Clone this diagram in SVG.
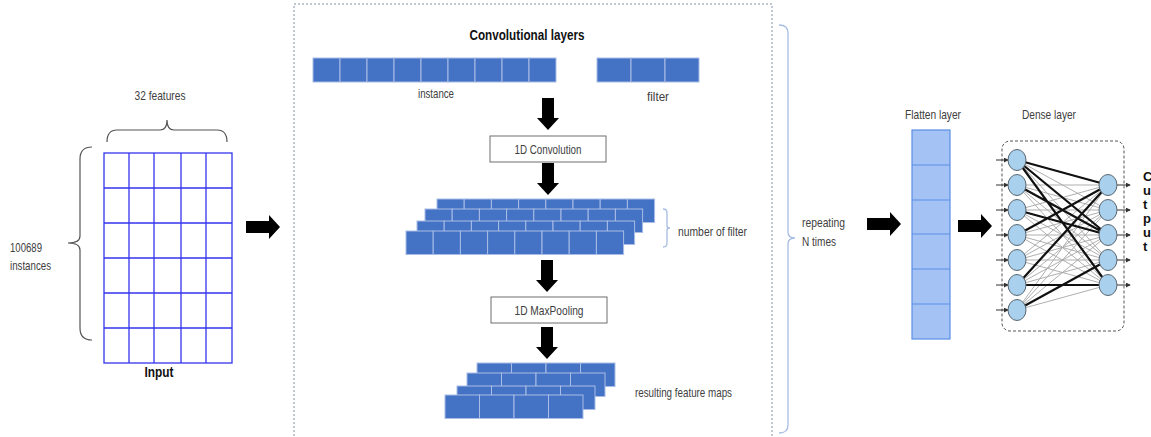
<svg xmlns="http://www.w3.org/2000/svg" xmlns:xlink="http://www.w3.org/1999/xlink" width="1151" height="437" viewBox="0 0 1151 437">
  <style>
    text { font-family: "Liberation Sans Narrow", "Liberation Sans", Arial, sans-serif; fill: #404040; }
    .lbl { font-size: 13.5px; }
    .bold { font-weight: bold; fill: #111; }
    .cell { fill: #4472c4; stroke: #a9bde6; stroke-width: 1; }
    .grid { fill: none; stroke: #3434f0; stroke-width: 1.3; }
    .flat { fill: #a4c2f4; stroke: #5b8ee6; stroke-width: 1.2; }
    .box { fill: #fff; stroke: #6f6f6f; stroke-width: 1; }
    .brace-dark { fill: none; stroke: #555; stroke-width: 1.2; }
    .brace-blue { fill: none; stroke: #a7bde3; stroke-width: 1.3; }
    .block { fill: #000; }
    .neuron { fill: #a9d0ec; stroke: #5a6670; stroke-width: 1; }
    .weak { fill: none; stroke: #a6a6a6; stroke-width: 0.9; }
    .strong { fill: none; stroke: #111; stroke-width: 2.2; }
    .io { stroke: #333; stroke-width: 1; marker-end: url(#tip); }
  </style>
  <defs>
    <marker id="tip" viewBox="0 0 6 6" refX="5" refY="3" markerWidth="5" markerHeight="5" orient="auto">
      <path d="M0 0 L6 3 L0 6 Z" fill="#333"/>
    </marker>
    <path id="arrowRight" d="M0 -6 H23 V-12 L34 0 L23 12 V6 H0 Z"/>
    <path id="arrowDown" d="M-6 0 H6 V20 H11 L0 32 L-11 20 H-6 Z"/>
    <g id="row8">
      <rect class="cell" x="0" y="0" width="27.2" height="23.5"/>
      <rect class="cell" x="27.2" y="0" width="27.2" height="23.5"/>
      <rect class="cell" x="54.4" y="0" width="27.2" height="23.5"/>
      <rect class="cell" x="81.6" y="0" width="27.2" height="23.5"/>
      <rect class="cell" x="108.8" y="0" width="27.2" height="23.5"/>
      <rect class="cell" x="136" y="0" width="27.2" height="23.5"/>
      <rect class="cell" x="163.2" y="0" width="27.2" height="23.5"/>
      <rect class="cell" x="190.4" y="0" width="27.2" height="23.5"/>
    </g>
    <g id="row4">
      <rect class="cell" x="0" y="0" width="34.5" height="23.5"/>
      <rect class="cell" x="34.5" y="0" width="34.5" height="23.5"/>
      <rect class="cell" x="69" y="0" width="34.5" height="23.5"/>
      <rect class="cell" x="103.5" y="0" width="34.5" height="23.5"/>
    </g>
  </defs>

  <rect width="1151" height="437" fill="#fff"/>

  <!-- input matrix -->
  <g id="input">
    <text x="160" y="100" class="lbl" text-anchor="middle" textLength="51" lengthAdjust="spacingAndGlyphs">32 features</text>
    <path class="brace-dark" d="M107 142 Q107 130 117 130 L160 130 Q167 130 167 120 Q167 130 174 130 L217 130 Q227 130 227 142"/>
    <path class="brace-dark" d="M92 147 Q80 147 80 159 L80 236 Q80 243 68 243 Q80 243 80 250 L80 328 Q80 340 92 340"/>
    <text x="10" y="252" class="lbl" textLength="32" lengthAdjust="spacingAndGlyphs">100689</text>
    <text x="10" y="270" class="lbl" textLength="41" lengthAdjust="spacingAndGlyphs">instances</text>
    <rect class="grid" x="104" y="153" width="128" height="210"/>
    <path class="grid" d="M129 153V363M154 153V363M181 153V363M206 153V363M104 188H232M104 223H232M104 258H232M104 293H232M104 328H232"/>
    <text x="159" y="377" class="bold" font-size="15" text-anchor="middle" textLength="29" lengthAdjust="spacingAndGlyphs">Input</text>
  </g>

  <!-- convolution block -->
  <g id="conv-layers">
    <path d="M294 440 V4 H772 V440" fill="none" stroke="#8592a6" stroke-width="1" stroke-dasharray="2 2"/>
    <text x="527" y="40" class="bold" font-size="15" text-anchor="middle" textLength="115" lengthAdjust="spacingAndGlyphs">Convolutional layers</text>
  </g>

  <g id="instance">
    <rect class="cell" x="313" y="58" width="27" height="24"/>
    <rect class="cell" x="340" y="58" width="27" height="24"/>
    <rect class="cell" x="367" y="58" width="27" height="24"/>
    <rect class="cell" x="394" y="58" width="27" height="24"/>
    <rect class="cell" x="421" y="58" width="27" height="24"/>
    <rect class="cell" x="448" y="58" width="27" height="24"/>
    <rect class="cell" x="475" y="58" width="27" height="24"/>
    <rect class="cell" x="502" y="58" width="27" height="24"/>
    <rect class="cell" x="529" y="58" width="27" height="24"/>
    <text x="436" y="98" class="lbl" text-anchor="middle" textLength="36" lengthAdjust="spacingAndGlyphs">instance</text>
  </g>

  <g id="filter">
    <rect class="cell" x="597" y="58" width="34" height="24"/>
    <rect class="cell" x="631" y="58" width="34" height="24"/>
    <rect class="cell" x="665" y="58" width="34" height="24"/>
    <text x="658" y="101" class="lbl" text-anchor="middle" textLength="22" lengthAdjust="spacingAndGlyphs">filter</text>
  </g>

  <g id="conv1d">
    <rect class="box" x="490" y="136" width="116" height="26"/>
    <text x="548" y="153.5" class="lbl" text-anchor="middle" textLength="67" lengthAdjust="spacingAndGlyphs">1D Convolution</text>
  </g>

  <g id="feature-maps">
    <use xlink:href="#row8" x="437" y="199"/>
    <use xlink:href="#row8" x="425" y="209"/>
    <use xlink:href="#row8" x="417" y="221"/>
    <use xlink:href="#row8" x="406" y="231"/>
    <path class="brace-blue" d="M663 209 Q667 209 667 213 L667 226 Q667 228 670 228 Q667 228 667 230 L667 243 Q667 247 663 247"/>
    <text x="678" y="236" class="lbl" textLength="69" lengthAdjust="spacingAndGlyphs">number of filter</text>
  </g>

  <g id="maxpool">
    <rect class="box" x="491" y="297" width="116" height="26"/>
    <text x="549" y="314.5" class="lbl" text-anchor="middle" textLength="69" lengthAdjust="spacingAndGlyphs">1D MaxPooling</text>
  </g>

  <g id="pooled-maps">
    <use xlink:href="#row4" x="477" y="363"/>
    <use xlink:href="#row4" x="467" y="373"/>
    <use xlink:href="#row4" x="457" y="386"/>
    <use xlink:href="#row4" x="445" y="395"/>
    <text x="635" y="397" class="lbl" textLength="97" lengthAdjust="spacingAndGlyphs">resulting feature maps</text>
  </g>

  <g id="repeat">
    <path class="brace-blue" d="M779 25 Q788 25 788 33 L788 232 Q788 238 795 238 Q788 238 788 244 L788 425 Q788 433 779 433"/>
    <text x="802" y="227" class="lbl" textLength="43" lengthAdjust="spacingAndGlyphs">repeating</text>
    <text x="802" y="246" class="lbl" textLength="34" lengthAdjust="spacingAndGlyphs">N times</text>
  </g>

  <!-- flatten layer -->
  <g id="flatten">
    <text x="933" y="119" class="lbl" text-anchor="middle" textLength="56" lengthAdjust="spacingAndGlyphs">Flatten layer</text>
    <rect class="flat" x="912" y="130" width="38" height="209"/>
    <path class="flat" d="M912 165H950M912 200H950M912 234H950M912 269H950M912 304H950"/>
  </g>

  <!-- dense layer -->
  <g id="dense">
    <text x="1049" y="119" class="lbl" text-anchor="middle" textLength="54" lengthAdjust="spacingAndGlyphs">Dense layer</text>
    <rect x="1002" y="141" width="122" height="190" rx="8" fill="none" stroke="#555" stroke-width="1" stroke-dasharray="3 2"/>
    <path class="weak" d="M1017 160L1108 185M1017 160L1108 210M1017 160L1108 235M1017 160L1108 260M1017 160L1108 285
      M1017 185L1108 185M1017 185L1108 210M1017 185L1108 235M1017 185L1108 260M1017 185L1108 285
      M1017 210L1108 185M1017 210L1108 210M1017 210L1108 235M1017 210L1108 260M1017 210L1108 285
      M1017 235L1108 185M1017 235L1108 210M1017 235L1108 235M1017 235L1108 260M1017 235L1108 285
      M1017 260L1108 185M1017 260L1108 210M1017 260L1108 235M1017 260L1108 260M1017 260L1108 285
      M1017 285L1108 185M1017 285L1108 210M1017 285L1108 235M1017 285L1108 260M1017 285L1108 285
      M1017 310L1108 185M1017 310L1108 210M1017 310L1108 235M1017 310L1108 260M1017 310L1108 285"/>
    <path class="strong" d="M1017 160L1108 185M1017 160L1108 235M1017 160L1108 285M1017 185L1108 235M1017 210L1108 235M1017 235L1108 185M1017 285L1108 185M1017 285L1108 285"/>
    <path class="strong" stroke-width="3" d="M1017 310L1108 260"/>
    <g>
      <line class="io" x1="996" y1="160" x2="1008" y2="160"/>
      <line class="io" x1="996" y1="185" x2="1008" y2="185"/>
      <line class="io" x1="996" y1="210" x2="1008" y2="210"/>
      <line class="io" x1="996" y1="235" x2="1008" y2="235"/>
      <line class="io" x1="996" y1="260" x2="1008" y2="260"/>
      <line class="io" x1="996" y1="285" x2="1008" y2="285"/>
      <line class="io" x1="996" y1="310" x2="1008" y2="310"/>
      <line class="io" x1="1117" y1="185" x2="1130" y2="185"/>
      <line class="io" x1="1117" y1="210" x2="1130" y2="210"/>
      <line class="io" x1="1117" y1="235" x2="1130" y2="235"/>
      <line class="io" x1="1117" y1="260" x2="1130" y2="260"/>
      <line class="io" x1="1117" y1="285" x2="1130" y2="285"/>
    </g>
    <ellipse class="neuron" cx="1017" cy="160" rx="9" ry="10.5"/>
    <ellipse class="neuron" cx="1017" cy="185" rx="9" ry="10.5"/>
    <ellipse class="neuron" cx="1017" cy="210" rx="9" ry="10.5"/>
    <ellipse class="neuron" cx="1017" cy="235" rx="9" ry="10.5"/>
    <ellipse class="neuron" cx="1017" cy="260" rx="9" ry="10.5"/>
    <ellipse class="neuron" cx="1017" cy="285" rx="9" ry="10.5"/>
    <ellipse class="neuron" cx="1017" cy="310" rx="9" ry="10.5"/>
    <ellipse class="neuron" cx="1108" cy="185" rx="9" ry="10.5"/>
    <ellipse class="neuron" cx="1108" cy="210" rx="9" ry="10.5"/>
    <ellipse class="neuron" cx="1108" cy="235" rx="9" ry="10.5"/>
    <ellipse class="neuron" cx="1108" cy="260" rx="9" ry="10.5"/>
    <ellipse class="neuron" cx="1108" cy="285" rx="9" ry="10.5"/>
  </g>

  <g id="output-text">
    <text x="1143" y="181" class="bold" font-size="13">C</text>
    <text x="1143" y="195" class="bold" font-size="13">u</text>
    <text x="1143" y="209" class="bold" font-size="13">t</text>
    <text x="1143" y="223" class="bold" font-size="13">p</text>
    <text x="1143" y="237" class="bold" font-size="13">u</text>
    <text x="1143" y="251" class="bold" font-size="13">t</text>
  </g>

  <!-- block arrows between stages -->
  <g id="connectors">
    <use xlink:href="#arrowRight" class="block" x="246" y="227"/>
    <use xlink:href="#arrowDown" class="block" x="548" y="98"/>
    <use xlink:href="#arrowDown" class="block" x="548" y="163"/>
    <use xlink:href="#arrowDown" class="block" x="547" y="260"/>
    <use xlink:href="#arrowDown" class="block" x="547" y="327"/>
    <use xlink:href="#arrowRight" class="block" x="867" y="224"/>
    <use xlink:href="#arrowRight" class="block" x="958" y="226"/>
  </g>
</svg>
